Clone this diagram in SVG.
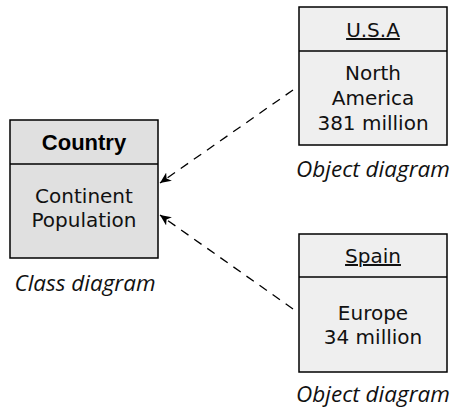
<svg xmlns="http://www.w3.org/2000/svg" width="458" height="409" viewBox="0 0 458 409">
<defs>
<style>
.box{stroke:#000;stroke-width:1.5}
.t{font-family:"DejaVu Sans","Liberation Sans",sans-serif;font-size:20px;fill:#111;text-anchor:middle}
.cap{font-family:"Open Sans","DejaVu Sans",sans-serif;font-style:italic;font-size:22.5px;fill:#111;text-anchor:middle}
.b{font-family:"Liberation Sans",Arial,sans-serif;font-weight:bold;font-size:22px;fill:#000;text-anchor:middle}
.u{text-decoration:underline}
.conn{stroke:#000;stroke-width:1.3;fill:none;stroke-dasharray:9,7}
</style>
<marker id="arr" viewBox="0 0 12 10" refX="11" refY="5" markerWidth="12" markerHeight="10" markerUnits="userSpaceOnUse" orient="auto">
<path d="M0,0 L11,5 L0,10 L3,5 Z" fill="#000"/>
</marker>
</defs>
<rect width="458" height="409" fill="#fff"/>
<g id="country">
<rect class="box" x="10" y="120" width="148" height="138" fill="#e0e0e0"/>
<line class="box" x1="10" y1="164" x2="158" y2="164"/>
<text class="b" x="84" y="150">Country</text>
<text class="t" x="84" y="203">Continent</text>
<text class="t" x="84" y="227">Population</text>
<text class="cap" x="85" y="291">Class diagram</text>
</g>
<g id="usa">
<rect class="box" x="299" y="7" width="148" height="138" fill="#efefef"/>
<line class="box" x1="299" y1="51" x2="447" y2="51"/>
<text class="t u" x="373" y="37">U.S.A</text>
<text class="t" x="373" y="80">North</text>
<text class="t" x="373" y="105">America</text>
<text class="t" x="373" y="130">381 million</text>
<text class="cap" x="373" y="177">Object diagram</text>
</g>
<g id="spain">
<rect class="box" x="299" y="234" width="148" height="138" fill="#efefef"/>
<line class="box" x1="299" y1="277" x2="447" y2="277"/>
<text class="t u" x="373" y="263">Spain</text>
<text class="t" x="373" y="320">Europe</text>
<text class="t" x="373" y="344">34 million</text>
<text class="cap" x="373" y="402">Object diagram</text>
</g>
<g id="connectors">
<path class="conn" d="M293,90 L160,183" marker-end="url(#arr)"/>
<path class="conn" d="M293,309 L160,215" marker-end="url(#arr)"/>
</g>
</svg>
